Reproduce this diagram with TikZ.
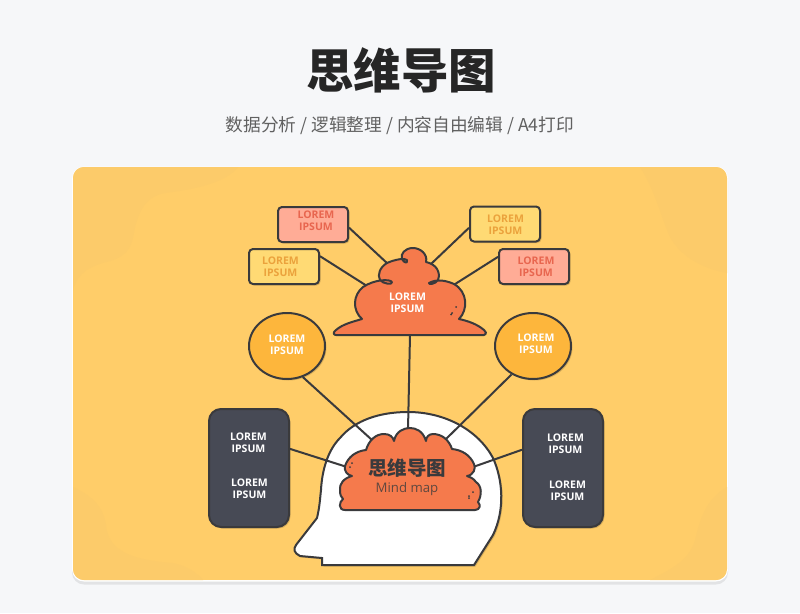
\documentclass[tikz,border=0pt]{standalone}
\usepackage{fontspec}
\setmainfont{Open Sans}
\newfontfamily\cjk{Noto Sans CJK SC}
\usetikzlibrary{shadows,shapes.geometric}
\definecolor{inkline}{HTML}{3A3A3C}
\definecolor{pagebg}{HTML}{F6F7F9}
\definecolor{cardbg}{HTML}{FFCD69}
\definecolor{cardblob}{HTML}{FCCB6A}
\definecolor{pinkbox}{HTML}{FFAC96}
\definecolor{pinktext}{HTML}{E8664F}
\definecolor{yellowbox}{HTML}{FFDA74}
\definecolor{yellowtext}{HTML}{EBA23C}
\definecolor{orangeround}{HTML}{FDB63C}
\definecolor{cloudfill}{HTML}{F57A4C}
\definecolor{slatebox}{HTML}{474A55}
\tikzset{softshadow/.style={drop shadow={shadow xshift=1.5pt,shadow yshift=-1.5pt,opacity=.15,fill=black}},
notebox/.style={draw=inkline,line width=2pt,rounded corners=4pt,minimum width=70pt,minimum height=35pt,inner sep=0pt,softshadow},
roundbox/.style={draw=inkline,line width=2pt,fill=orangeround,ellipse,minimum width=76pt,minimum height=66pt,inner sep=0pt,softshadow},
slatecard/.style={draw=inkline,line width=2pt,fill=slatebox,rounded corners=12pt,minimum width=80pt,minimum height=118pt,inner sep=0pt,softshadow},
link/.style={draw=inkline,line width=2pt},
caption/.style={align=center,font=\fontsize{10.5}{12}\selectfont\bfseries,inner sep=0pt}}

\begin{document}
\begin{tikzpicture}[x=1pt,y=-1pt]
\useasboundingbox[fill=pagebg] (0,0) rectangle (800,613);
\node[inner sep=0pt,font=\cjk\fontsize{47.5}{50}\selectfont\bfseries,text=black!85] (title) at (401,70) {思维导图};
\node[inner sep=0pt,font=\cjk\fontsize{17.7}{20}\selectfont,text=black!62] (subtitle) at (400,125.5) {数据分析 / 逻辑整理 / 内容自由编辑 / A4打印};

% card
\fill[white,rounded corners=12pt,drop shadow={shadow xshift=0pt,shadow yshift=-3pt,opacity=.08,fill=black}] (72,166.5) rectangle (728,581.5);
\begin{scope}
\clip[rounded corners=11pt] (73,167) rectangle (727,580);
\fill[cardbg] (73,167) rectangle (727,580);
\fill[cardblob] (73,167) -- (238,167) .. controls (228,180) and (205,188) .. (165,193) .. controls (145,197) and (140,210) .. (135,227) .. controls (132,245) and (130,255) .. (110,261) .. controls (90,266) and (78,272) .. (73,290) -- cycle;
\fill[cardblob] (727,167) -- (640,167) .. controls (655,190) and (662,220) .. (670,237) .. controls (680,255) and (700,268) .. (727,273) -- cycle;
\fill[cardblob] (73,487) .. controls (90,495) and (103,505) .. (106,525) .. controls (108,550) and (130,560) .. (173,563) .. controls (188,566) and (198,574) .. (203,580) -- (73,580) -- cycle;
\fill[cardblob] (727,487) .. controls (705,500) and (700,520) .. (695,540) .. controls (690,560) and (670,570) .. (650,580) -- (727,580) -- cycle;
\end{scope}

% head
\draw[draw=inkline,line width=2pt,fill=white,drop shadow={shadow xshift=1.5pt,shadow yshift=-1.5pt,opacity=.15,fill=black}]
  (408,412) .. controls (445,412) and (478,430) .. (493,458)
  .. controls (503,480) and (505,510) .. (493,535)
  -- (474,565) -- (322,565) -- (322,558) -- (300,556)
  .. controls (294,553) and (293,549) .. (296,545)
  -- (317,518) .. controls (320,505) and (320,498) .. (321,490)
  .. controls (322,470) and (328,450) .. (340,438)
  .. controls (355,420) and (380,412) .. (408,412) -- cycle;

% anchors on the cloud and the brain
\coordinate (cloudbase) at (410,335);
\coordinate (cloudnw) at (388,264);
\coordinate (cloudne) at (431,264);
\coordinate (cloudw) at (367,286);
\coordinate (cloude) at (452,286);
\coordinate (braintop) at (408,430);
\coordinate (brainnw) at (372,440);
\coordinate (brainne) at (446,439);
\coordinate (brainw) at (347,467);
\coordinate (braine) at (473,467);

\node[notebox,fill=pinkbox] (pinka) at (313,224.5) {};
\node[notebox,fill=yellowbox] (yellowa) at (505,224) {};
\node[notebox,fill=yellowbox] (yellowb) at (284,266.5) {};
\node[notebox,fill=pinkbox] (pinkb) at (534,266.5) {};
\node[roundbox] (rounda) at (287,346) {};
\node[roundbox] (roundb) at (533,346) {};
\node[slatecard] (slatea) at (249,468) {};
\node[slatecard] (slateb) at (563,468) {};

\draw[link] (pinka.-5) -- (cloudnw);
\draw[link] (yellowb.16) -- (cloudw);
\draw[link] (yellowa.186) -- (cloudne);
\draw[link] (pinkb.165) -- (cloude);
\draw[link] (cloudbase) -- (braintop);
\draw[link] (rounda.-63) -- (brainnw);
\draw[link] (roundb.-127) -- (brainne);
\draw[link] (slatea.25) -- (brainw);
\draw[link] (slateb.156) -- (braine);

% cloud
\draw[draw=inkline,line width=2pt,fill=cloudfill,line join=round]
  (336,335) -- (484,335)
  .. controls (487,334) and (486,331) .. (484,330)
  .. controls (477,324) and (468,321) .. (459,319)
  .. controls (468,310) and (468,292) .. (454,284)
  .. controls (445,280) and (436,279) .. (429,283)
  .. controls (428,285) and (436,284) .. (438,280)
  .. controls (441,272) and (436,264) .. (426,262)
  .. controls (428,254) and (420,248) .. (413,248)
  .. controls (405,248) and (400,254) .. (402,259)
  .. controls (404,263) and (408,264) .. (407,260)
  .. controls (405,258) and (396,259) .. (387,263)
  .. controls (380,267) and (377,275) .. (380,280)
  .. controls (383,284) and (393,285) .. (392,282)
  .. controls (390,279) and (375,279) .. (363,287)
  .. controls (353,295) and (352,310) .. (362,319)
  .. controls (352,322) and (343,324) .. (336,330)
  .. controls (333,332) and (333,335) .. (336,335) -- cycle;
\fill[inkline] (456,307) circle (1pt) (452,313) circle (1pt) (451,314.5) circle (1pt);

% brain
\draw[draw=inkline,line width=2pt,fill=cloudfill,line join=round]
  (345,510) -- (475,510)
  .. controls (480,510) and (481,505) .. (478,502)
  .. controls (482,495) and (482,486) .. (476,482)
  .. controls (473,478) and (470,477) .. (467,476)
  .. controls (474,475) and (476,468) .. (474,464)
  .. controls (470,455) and (462,450) .. (452,449)
  .. controls (449,440) and (442,434) .. (433,434)
  .. controls (429,434) and (426,437) .. (426,441)
  .. controls (423,431) and (416,428) .. (410,428)
  .. controls (404,428) and (396,431) .. (394,441)
  .. controls (393,437) and (390,434) .. (384,434)
  .. controls (376,434) and (369,440) .. (366,450)
  .. controls (356,451) and (348,457) .. (345,466)
  .. controls (344,471) and (347,475) .. (352,476)
  .. controls (344,478) and (339,484) .. (340,490)
  .. controls (340,495) and (341,497) .. (343,499)
  .. controls (339,502) and (338,510) .. (345,510) -- cycle;
\fill[inkline] (352,463) circle (1pt) (350,467) circle (1pt) (473,492) circle (1pt) (469,496) circle (1pt) (469,498) circle (1pt);

\node[caption,text=pinktext] (pinkatext) at (316,221) {LOREM\\IPSUM};
\node[caption,text=yellowtext] (yellowatext) at (505.5,225) {LOREM\\IPSUM};
\node[caption,text=yellowtext] (yellowbtext) at (280.5,266.5) {LOREM\\IPSUM};
\node[caption,text=pinktext] (pinkbtext) at (536,266.5) {LOREM\\IPSUM};
\node[caption,text=white] (cloudtext) at (407.5,303) {LOREM\\IPSUM};
\node[caption,text=white] (roundatext) at (287,344.5) {LOREM\\IPSUM};
\node[caption,text=white] (roundbtext) at (536,344) {LOREM\\IPSUM};
\node[caption,text=white] (slateatexta) at (248.5,443) {LOREM\\IPSUM};
\node[caption,text=white] (slateatextb) at (249.5,489) {LOREM\\IPSUM};
\node[caption,text=white] (slatebtexta) at (565.5,443.5) {LOREM\\IPSUM};
\node[caption,text=white] (slatebtextb) at (567.5,491) {LOREM\\IPSUM};
\node[inner sep=0pt,font=\cjk\fontsize{19.5}{22}\selectfont\bfseries,text=inkline] (braintitle) at (407,468) {思维导图};
\node[inner sep=0pt,font=\fontsize{13.2}{14}\selectfont,text=inkline!80!cloudfill] (brainsub) at (407,489) {Mind map};
\end{tikzpicture}
\end{document}
